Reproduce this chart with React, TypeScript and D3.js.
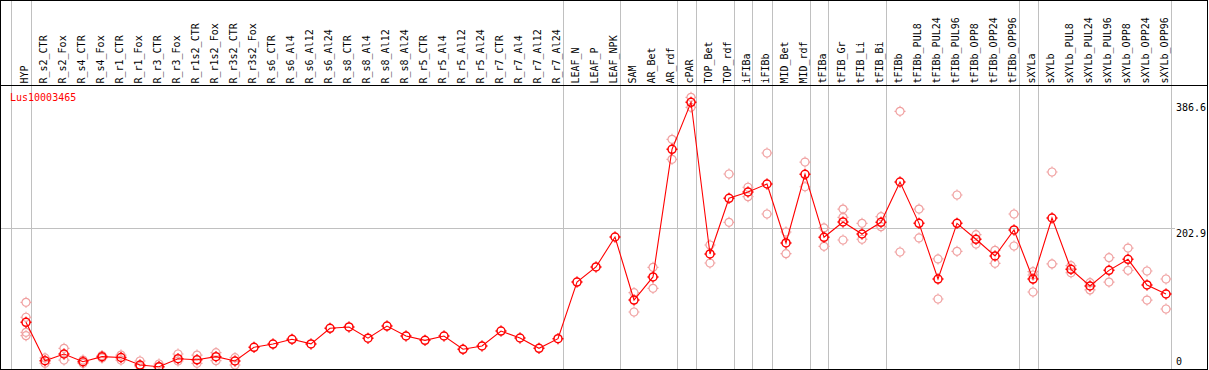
import React, { useEffect, useRef } from 'react';
import * as d3 from 'd3';

const geneName = 'Lus10003465';

const categories = [
  'HYP', 'R_s2_CTR', 'R_s2_Fox', 'R_s4_CTR', 'R_s4_Fox', 'R_r1_CTR', 'R_r1_Fox', 'R_r3_CTR', 'R_r3_Fox',
  'R_r1s2_CTR', 'R_r1s2_Fox', 'R_r3s2_CTR', 'R_r3s2_Fox', 'R_s6_CTR', 'R_s6_Al4', 'R_s6_Al12', 'R_s6_Al24',
  'R_s8_CTR', 'R_s8_Al4', 'R_s8_Al12', 'R_s8_Al24', 'R_r5_CTR', 'R_r5_Al4', 'R_r5_Al12', 'R_r5_Al24',
  'R_r7_CTR', 'R_r7_Al4', 'R_r7_Al12', 'R_r7_Al24', 'LEAF_N', 'LEAF_P', 'LEAF_NPK', 'SAM', 'AR_Bet', 'AR_rdf',
  'cPAR', 'TOP_Bet', 'TOP_rdf', 'iFIBa', 'iFIBb', 'MID_Bet', 'MID_rdf', 'tFIBa', 'tFIB_Gr', 'tFIB_Li', 'tFIB_Bi',
  'tFIBb', 'tFIBb_PUL8', 'tFIBb_PUL24', 'tFIBb_PUL96', 'tFIBb_OPP8', 'tFIBb_OPP24', 'tFIBb_OPP96',
  'sXYLa', 'sXYLb', 'sXYLb_PUL8', 'sXYLb_PUL24', 'sXYLb_PUL96', 'sXYLb_OPP8', 'sXYLb_OPP24', 'sXYLb_OPP96',
];

// mean expression per sample
const meanValues = [
  65.0, 8.9, 18.7, 7.5, 14.8, 13.6, 2.6, 0.1, 11.8,
  10.2, 14.8, 8.5, 28.5, 33.3, 40.2, 33.5, 56.3,
  58.2, 41.8, 59.6, 45.0, 38.7, 45.0, 25.6, 30.4,
  52.3, 42.1, 27.0, 41.1, 123.9, 145.9, 189.7, 97.6, 131.3, 317.9,
  386.6, 164.9, 246.3, 255.5, 267.2, 181.0, 281.4, 189.3, 211.7, 194.1, 211.2,
  270.1, 209.7, 128.3, 209.7, 186.4, 162.0, 200.0,
  128.3, 217.5, 142.5, 118.1, 141.0, 157.1, 119.6, 106.4,
];

// individual replicates
const replicateValues: number[][] = [
  [94.3, 72.4, 50.4, 45.5], [12.9, 5.1], [27.0, 9.9], [9.9, 5.1], [16.5, 12.9], [17.2, 9.9], [8.5, 0.4], [4.1, 0], [18.7, 8.5],
  [17.2, 5.1], [20.6, 8.9], [13.3, 2.6], [], [], [], [], [],
  [], [], [], [], [], [], [], [],
  [], [], [], [], [], [], [], [108.3, 80.1], [145.4, 114.7], [332.5, 303.3],
  [393.9, 379.3], [178.0, 151.7], [281.8, 211.2], [262.4, 248.6], [312.5, 223.3], [197.0, 165.3], [299.3, 263.2], [203.0, 176.1], [230.6, 218.5, 185.3], [209.7, 186.4], [219.4, 204.8],
  [373.4, 167.8], [230.6, 188.3], [157.6, 99.1], [251.1, 168.8], [193.1, 179.5], [170.3, 151.3], [223.3, 176.6],
  [139.0, 134.2, 109.3], [284.7, 150.3], [147.8, 137.5], [122.9, 112.3], [159.5, 123.9], [173.6, 141.0], [140.0, 97.6], [128.3, 84.5],
];

// index of the last sample in each group (-1 = left edge)
const groupEnds = [-1, 0, 28, 31, 34, 35, 37, 38, 39, 41, 42, 45, 52, 53, 60];

const yTickValues = [0, 202.9, 386.6];
const gridValues = [202.9];

const W = 1209;
const H = 370;
const RED = '#ff0000';
const PINK = '#f0a0a0';
const GRAY = '#c0c0c0';
const FONT = '"DejaVu Sans Mono", monospace';

const marker = (r: number, t: number) =>
  `M${-r},0a${r},${r} 0 1,0 ${2 * r},0a${r},${r} 0 1,0 ${-2 * r},0` +
  `M0,${-r}V${-r - t}M0,${r}V${r + t}M${-r},0H${-r - t}M${r},0H${r + t}`;

const App: React.FC = () => {
  const svgRef = useRef<SVGSVGElement | null>(null);

  useEffect(() => {
    if (!svgRef.current) return;
    const svg = d3.select(svgRef.current).html('');

    const x = d3.scaleLinear().domain([0, categories.length - 1]).range([26, 1166]);
    const y = d3.scaleLinear().domain([0, 386.6]).range([366.8, 102.3]);

    svg.append('rect').attr('width', W).attr('height', H).attr('fill', '#fff');

    // group separators
    svg.selectAll('.sep')
      .data(groupEnds)
      .enter()
      .append('line')
      .attr('x1', d => Math.round(x(d) + 4.5) + 0.5)
      .attr('x2', d => Math.round(x(d) + 4.5) + 0.5)
      .attr('y1', 0)
      .attr('y2', 369)
      .attr('stroke', GRAY)
      .attr('shape-rendering', 'crispEdges');

    // horizontal grid
    svg.selectAll('.grid')
      .data(gridValues)
      .enter()
      .append('line')
      .attr('x1', 0)
      .attr('x2', 1175)
      .attr('y1', d => Math.round(y(d)) + 0.5)
      .attr('y2', d => Math.round(y(d)) + 0.5)
      .attr('stroke', GRAY)
      .attr('shape-rendering', 'crispEdges');

    // sample labels
    svg.selectAll('.lbl')
      .data(categories)
      .enter()
      .append('text')
      .attr('transform', (_, i) => `translate(${x(i) + 1.5},83.5) rotate(-90)`)
      .attr('font-family', FONT)
      .attr('font-size', 10)
      .attr('fill', '#000')
      .text(d => d);

    // header rule
    svg.append('line')
      .attr('x1', 0).attr('x2', 1208)
      .attr('y1', 85.5).attr('y2', 85.5)
      .attr('stroke', '#000')
      .attr('shape-rendering', 'crispEdges');

    // y tick labels
    svg.selectAll('.ytick')
      .data(yTickValues)
      .enter()
      .append('text')
      .attr('x', 1176)
      .attr('y', d => Math.min(y(d) + 9, 365))
      .attr('font-family', FONT)
      .attr('font-size', 10)
      .attr('fill', '#000')
      .text(d => (d === 0 ? '0' : d.toFixed(1)));

    svg.append('text')
      .attr('x', 10)
      .attr('y', 101)
      .attr('font-family', FONT)
      .attr('font-size', 10)
      .attr('fill', RED)
      .text(geneName);

    // replicates
    const reps = replicateValues.flatMap((vals, i) => vals.map(v => ({ i, v })));
    svg.selectAll('.rep')
      .data(reps)
      .enter()
      .append('path')
      .attr('transform', d => `translate(${x(d.i)},${y(d.v)})`)
      .attr('d', marker(4, 1.5))
      .attr('fill', 'none')
      .attr('stroke', PINK)
      .attr('stroke-width', 1.2);

    // mean line
    const line = d3.line<number>()
      .x((_, i) => x(i))
      .y(d => y(d));
    svg.append('path')
      .datum(meanValues)
      .attr('d', line)
      .attr('fill', 'none')
      .attr('stroke', RED)
      .attr('stroke-width', 1.1);

    svg.selectAll('.mean')
      .data(meanValues)
      .enter()
      .append('path')
      .attr('transform', (d, i) => `translate(${x(i)},${y(d)})`)
      .attr('d', marker(4, 1.5))
      .attr('fill', 'none')
      .attr('stroke', RED)
      .attr('stroke-width', 1.5);

    // frame
    svg.append('rect')
      .attr('x', 0.5).attr('y', 0.5)
      .attr('width', 1207).attr('height', 369)
      .attr('fill', 'none')
      .attr('stroke', '#000')
      .attr('shape-rendering', 'crispEdges');
  }, []);

  return (
    <div style={{ position: 'absolute', left: 0, top: 0 }}>
      <svg ref={svgRef} width={W} height={H} style={{ display: 'block' }} />
    </div>
  );
};

export default App;
